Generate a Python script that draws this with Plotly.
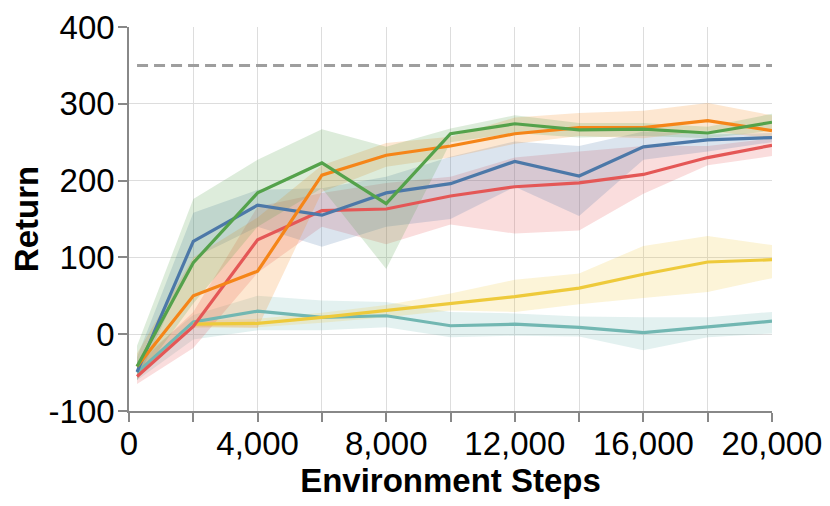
import plotly.graph_objects as go

# environment steps (x)
steps = [250, 2000, 4000, 6000, 8000, 10000, 12000, 14000, 16000, 18000, 20000]

# mean return and band (lo / hi) per run
blue = [-49, 121, 168, 155, 184, 196, 225, 206, 244, 253, 256]
blue_lo = [-60, 99, 140, 114, 140, 150, 192, 154, 227, 238, 250]
blue_hi = [-30, 158, 188, 190, 205, 231, 251, 245, 264, 260, 262]

green = [-42, 93, 184, 223, 170, 261, 274, 266, 267, 262, 276]
green_lo = [-60, 40, 140, 190, 85, 250, 262, 256, 258, 255, 265]
green_hi = [-15, 176, 227, 267, 244, 268, 285, 275, 275, 270, 287]

orange = [-42, 50, 82, 207, 233, 245, 261, 269, 269, 278, 265]
orange_lo = [-55, 10, 8, 185, 218, 230, 248, 258, 255, 265, 255]
orange_hi = [-25, 100, 152, 220, 249, 257, 282, 288, 291, 301, 285]

red = [-55, 10, 123, 161, 163, 180, 192, 197, 208, 230, 246]
red_lo = [-65, -18, 80, 140, 117, 143, 131, 135, 183, 220, 232]
red_hi = [-40, 29, 166, 184, 197, 205, 230, 238, 245, 245, 255]

teal = [-50, 16, 30, 22, 24, 11, 13, 9, 2, 9, 17]
teal_lo = [-60, -7, 5, 5, 9, -4, -2, -3, -21, -4, 1]
teal_hi = [-35, 25, 50, 44, 42, 29, 27, 23, 22, 22, 29]

yellow = [None, 13, 14, 22, 31, 41, 49, 60, 78, 94, 97]
yellow_lo = [None, 8, 9, 15, 22, 31, 29, 39, 47, 55, 73]
yellow_hi = [None, 18, 20, 28, 38, 53, 71, 79, 115, 128, 116]

target = 350

series = [
    ('teal', teal, teal_lo, teal_hi, '114,183,178'),
    ('yellow', yellow, yellow_lo, yellow_hi, '238,202,59'),
    ('red', red, red_lo, red_hi, '228,87,86'),
    ('blue', blue, blue_lo, blue_hi, '76,120,168'),
    ('orange', orange, orange_lo, orange_hi, '245,133,24'),
    ('green', green, green_lo, green_hi, '84,162,75'),
]

fig = go.Figure()

# bands first
for name, mean, lo, hi, rgb in series:
    xs = [x for x, v in zip(steps, mean) if v is not None]
    los = [v for v in lo if v is not None]
    his = [v for v in hi if v is not None]
    fig.add_trace(go.Scatter(x=xs + xs[::-1], y=his + los[::-1],
                             fill='toself', fillcolor='rgba(%s,0.2)' % rgb,
                             line=dict(width=0), mode='lines',
                             hoverinfo='skip', showlegend=False))

for name, mean, lo, hi, rgb in series:
    xs = [x for x, v in zip(steps, mean) if v is not None]
    ys = [v for v in mean if v is not None]
    fig.add_trace(go.Scatter(x=xs, y=ys, mode='lines', name=name,
                             line=dict(color='rgb(%s)' % rgb, width=3.2),
                             showlegend=False))

fig.add_trace(go.Scatter(x=[steps[0], steps[-1]], y=[target, target], mode='lines',
                         line=dict(color='#9e9e9e', width=3, dash='11px,6px'),
                         showlegend=False))

xticks = list(range(0, 20001, 2000))
xtext = ['{:,}'.format(v) if v % 4000 == 0 else '' for v in xticks]
yticks = list(range(-100, 401, 100))
ytext = [str(v) for v in yticks]

font = dict(family='Liberation Sans', size=33, color='black')

fig.update_xaxes(range=[0, 20000], tickvals=xticks, ticktext=xtext,
                 showgrid=True, gridcolor='#dddddd', gridwidth=1,
                 showline=True, linecolor='#888888', linewidth=1.5,
                 ticks='outside', ticklen=9, tickcolor='#888888', tickwidth=1.5,
                 zeroline=False, tickfont=font, automargin=False,
                 ticklabelstandoff=-6,
                 title=dict(text='<b>Environment Steps</b>', standoff=0, font=font))
fig.update_yaxes(range=[-100, 400], tickvals=yticks, ticktext=ytext,
                 showgrid=True, gridcolor='#dddddd', gridwidth=1,
                 showline=True, linecolor='#888888', linewidth=1.5,
                 ticks='outside', ticklen=9, tickcolor='#888888', tickwidth=1.5,
                 zeroline=False, tickfont=font, automargin=False,
                 ticklabelstandoff=-3,
                 title=dict(text='<b>Return</b>', standoff=10, font=font))

# the page body adds 8px, so margins are shifted by that much
fig.update_layout(width=830, height=506,
                  margin=dict(l=121, r=66, t=19, b=103),
                  paper_bgcolor='white', plot_bgcolor='white',
                  showlegend=False)

fig.write_html("out.html")
